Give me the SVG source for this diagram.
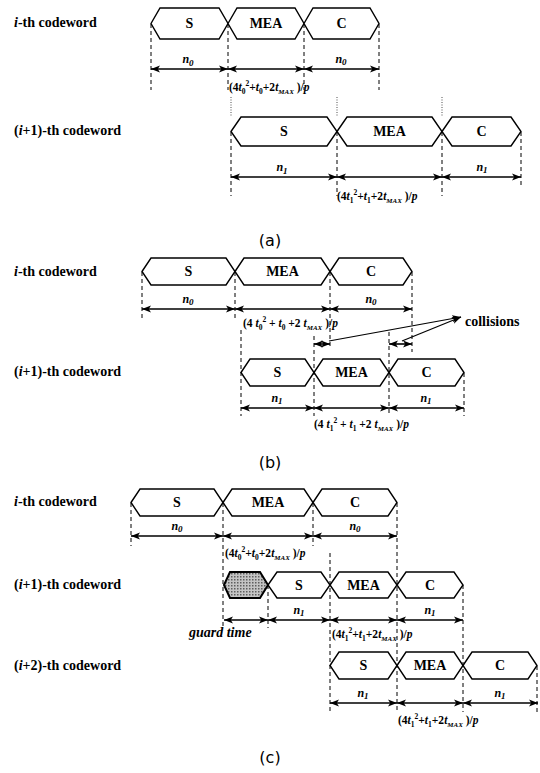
<svg xmlns="http://www.w3.org/2000/svg" width="540" height="773" viewBox="0 0 540 773">
<defs>
<marker id="ah" viewBox="0 0 10 8" refX="10" refY="4" markerWidth="9" markerHeight="7.5" markerUnits="userSpaceOnUse" orient="auto-start-reverse"><path d="M0 0 L10 4 L0 8 L2.5 4 Z" fill="#000"/></marker>
<pattern id="dots" width="3" height="3" patternUnits="userSpaceOnUse"><rect width="3" height="3" fill="#c4c4c4"/><rect width="1.5" height="1.5" fill="#5e5e5e"/></pattern>
<style>
.hx{fill:#fff;stroke:#000;stroke-width:1.4;stroke-linejoin:miter}
.gd{fill:url(#dots);stroke:#000;stroke-width:2}
.ds{stroke:#000;stroke-width:1;stroke-dasharray:4 3;fill:none}
.dt{stroke:#000;stroke-width:0.7;stroke-dasharray:1 1.5;fill:none}
.ar{stroke:#000;stroke-width:1.6;fill:none;marker-start:url(#ah);marker-end:url(#ah)}
.ln{stroke:#000;stroke-width:1.2;fill:none;marker-end:url(#ah)}
text{font-family:"Liberation Serif","Times New Roman",serif;font-weight:bold;fill:#000}
.lb{font-size:14px}
.sg{font-size:14px;text-anchor:middle}
.n{font-size:12px;font-style:italic;text-anchor:middle}
.f{font-size:11.5px}
.i{font-style:italic}
.cap{font-family:"DejaVu Sans",sans-serif;font-weight:normal;font-size:16px;text-anchor:middle}
</style>
</defs>

<!-- Panel (a) -->
<g id="a-label-i"><text class="lb" x="14" y="27"><tspan class="i">i</tspan>-th codeword</text></g>
<g id="a-i-S"><path class="hx" d="M151 23.5 L160 8 L219 8 L228 23.5 L219 39 L160 39 Z"/><text class="sg" x="189.5" y="28">S</text></g>
<g id="a-i-MEA"><path class="hx" d="M228 23.5 L237 8 L295 8 L304 23.5 L295 39 L237 39 Z"/><text class="sg" x="266" y="28">MEA</text></g>
<g id="a-i-C"><path class="hx" d="M304 23.5 L313 8 L370 8 L379 23.5 L370 39 L313 39 Z"/><text class="sg" x="341.5" y="28">C</text></g>

<g id="a-label-i1"><text class="lb" x="14" y="135">(<tspan class="i">i</tspan>+1)-th codeword</text></g>
<g id="a-i1-S"><path class="hx" d="M231 131.5 L241 117 L327 117 L337 131.5 L327 146 L241 146 Z"/><text class="sg" x="284" y="136">S</text></g>
<g id="a-i1-MEA"><path class="hx" d="M337 131.5 L347 117 L432 117 L442 131.5 L432 146 L347 146 Z"/><text class="sg" x="389.5" y="136">MEA</text></g>
<g id="a-i1-C"><path class="hx" d="M442 131.5 L452 117 L511 117 L521 131.5 L511 146 L452 146 Z"/><text class="sg" x="481.5" y="136">C</text></g>

<!-- Panel (b) -->
<g id="b-label-i"><text class="lb" x="14" y="276"><tspan class="i">i</tspan>-th  codeword</text></g>
<g id="b-i-S"><path class="hx" d="M142 271.5 L151 258 L226 258 L235 271.5 L226 285 L151 285 Z"/><text class="sg" x="188.5" y="276">S</text></g>
<g id="b-i-MEA"><path class="hx" d="M235 271.5 L244 258 L321 258 L330 271.5 L321 285 L244 285 Z"/><text class="sg" x="282.5" y="276">MEA</text></g>
<g id="b-i-C"><path class="hx" d="M330 271.5 L339 258 L403 258 L412 271.5 L403 285 L339 285 Z"/><text class="sg" x="371" y="276">C</text></g>

<g id="b-label-i1"><text class="lb" x="14" y="376">(<tspan class="i">i</tspan>+1)-th codeword</text></g>
<g id="b-i1-S"><path class="hx" d="M241 372.5 L250 359 L305 359 L314 372.5 L305 386 L250 386 Z"/><text class="sg" x="277.5" y="377">S</text></g>
<g id="b-i1-MEA"><path class="hx" d="M314 372.5 L323 359 L380 359 L389 372.5 L380 386 L323 386 Z"/><text class="sg" x="351.5" y="377">MEA</text></g>
<g id="b-i1-C"><path class="hx" d="M389 372.5 L398 359 L455 359 L464 372.5 L455 386 L398 386 Z"/><text class="sg" x="426.5" y="377">C</text></g>
<g id="b-collisions"><text class="lb" x="465" y="326" font-size="13">collisions</text></g>

<!-- Panel (c) -->
<g id="c-label-i"><text class="lb" x="14" y="506"><tspan class="i">i</tspan>-th codeword</text></g>
<g id="c-i-S"><path class="hx" d="M131 502.5 L140 489 L214 489 L223 502.5 L214 516 L140 516 Z"/><text class="sg" x="177" y="507">S</text></g>
<g id="c-i-MEA"><path class="hx" d="M223 502.5 L232 489 L304 489 L313 502.5 L304 516 L232 516 Z"/><text class="sg" x="268" y="507">MEA</text></g>
<g id="c-i-C"><path class="hx" d="M313 502.5 L322 489 L388 489 L397 502.5 L388 516 L322 516 Z"/><text class="sg" x="355" y="507">C</text></g>

<g id="c-label-i1"><text class="lb" x="14" y="589">(<tspan class="i">i</tspan>+1)-th codeword</text></g>
<g id="c-i1-guard"><path class="gd" d="M224 585 L230 572 L260 572 L268 585 L260 598 L230 598 Z"/></g>
<g id="c-i1-S"><path class="hx" d="M268 585 L277 572 L321 572 L330 585 L321 598 L277 598 Z"/><text class="sg" x="299" y="590">S</text></g>
<g id="c-i1-MEA"><path class="hx" d="M330 585 L339 572 L388 572 L397 585 L388 598 L339 598 Z"/><text class="sg" x="363.5" y="590">MEA</text></g>
<g id="c-i1-C"><path class="hx" d="M397 585 L406 572 L454 572 L463 585 L454 598 L406 598 Z"/><text class="sg" x="430" y="590">C</text></g>
<g id="c-guard-label"><text class="lb i" x="189" y="637" font-size="12.5">guard time</text></g>

<g id="c-label-i2"><text class="lb" x="14" y="670">(<tspan class="i">i</tspan>+2)-th codeword</text></g>
<g id="c-i2-S"><path class="hx" d="M330 665.5 L339 652 L388 652 L397 665.5 L388 679 L339 679 Z"/><text class="sg" x="363.5" y="670">S</text></g>
<g id="c-i2-MEA"><path class="hx" d="M397 665.5 L406 652 L454 652 L463 665.5 L454 679 L406 679 Z"/><text class="sg" x="430" y="670">MEA</text></g>
<g id="c-i2-C"><path class="hx" d="M463 665.5 L472 652 L528 652 L537 665.5 L528 679 L472 679 Z"/><text class="sg" x="500" y="670">C</text></g>

<!-- connectors -->
<g id="connectors">
<path class="ds" d="M151 24 V90 M228 24 V90 M304 24 V90 M379 24 V90"/>
<path class="dt" d="M231 97 V117 M337 97 V117 M442 97 V117"/>
<path class="ds" d="M231 132 V196 M337 132 V196 M442 132 V196 M521 132 V186"/>
<path class="ar" d="M151 69 H228"/><path class="ar" d="M228 69 H304"/><path class="ar" d="M304 69 H379"/>
<path class="ar" d="M231 177 H337"/><path class="ar" d="M337 177 H442"/><path class="ar" d="M442 177 H521"/>

<path class="ds" d="M142 272 V318 M235 272 V318 M330 272 V347 M412 272 V352"/>
<path class="ds" d="M241 330 V416 M314 336 V416 M389 332 V416 M464 373 V416"/>
<path class="ar" d="M142 309 H235"/><path class="ar" d="M235 309 H330"/><path class="ar" d="M330 309 H412"/>
<path class="ar" d="M314 344 H330"/><path class="ar" d="M389 344 H412"/>
<path class="ln" d="M329 341 L461 317"/><path class="ln" d="M402 341 L461 317"/>
<path class="ar" d="M241 408 H314"/><path class="ar" d="M314 408 H389"/><path class="ar" d="M389 408 H464"/>

<path class="ds" d="M131 503 V546 M223 503 V628 M313 503 V546 M397 503 V712"/>
<path class="ds" d="M268 585 V628 M330 553 V712 M463 585 V712 M537 666 V712"/>
<path class="ar" d="M131 536 H223"/><path class="ar" d="M223 536 H313"/><path class="ar" d="M313 536 H397"/>
<path class="ar" d="M224 620 H268"/><path class="ar" d="M268 620 H330"/><path class="ar" d="M330 620 H397"/><path class="ar" d="M397 620 H463"/>
<path class="ar" d="M330 703 H397"/><path class="ar" d="M397 703 H463"/><path class="ar" d="M463 703 H538"/>
</g>

<g id="dim-labels">
<text class="n" x="188" y="63">n<tspan font-size="9" dy="3">0</tspan></text>
<text class="n" x="341" y="63">n<tspan font-size="9" dy="2">0</tspan></text>
<text class="f" x="229" y="91">(4<tspan class="i">t</tspan><tspan dy="3" font-size="7.5">0</tspan><tspan dy="-8" font-size="7.5">2</tspan><tspan dy="5">+</tspan><tspan class="i">t</tspan><tspan dy="3" font-size="7.5">0</tspan><tspan dy="-3">+2</tspan><tspan class="i">t</tspan><tspan dy="3" font-size="7" class="i">MAX</tspan><tspan dy="-3"> )/</tspan><tspan class="i">p</tspan></text>
<text class="n" x="282" y="171">n<tspan font-size="9" dy="3">1</tspan></text>
<text class="n" x="482" y="171">n<tspan font-size="9" dy="2">1</tspan></text>
<text class="f" x="337" y="200">(4<tspan class="i">t</tspan><tspan dy="3" font-size="7.5">1</tspan><tspan dy="-8" font-size="7.5">2</tspan><tspan dy="5">+</tspan><tspan class="i">t</tspan><tspan dy="3" font-size="7.5">1</tspan><tspan dy="-3">+2</tspan><tspan class="i">t</tspan><tspan dy="3" font-size="7" class="i">MAX</tspan><tspan dy="-3"> )/</tspan><tspan class="i">p</tspan></text>

<text class="n" x="188" y="303">n<tspan font-size="9" dy="2">0</tspan></text>
<text class="n" x="371" y="303">n<tspan font-size="9" dy="2">0</tspan></text>
<text class="f" x="243" y="327">(4 <tspan class="i">t</tspan><tspan dy="3" font-size="7.5">0</tspan><tspan dy="-8" font-size="7.5">2</tspan><tspan dy="5"> + </tspan><tspan class="i">t</tspan><tspan dy="3" font-size="7.5">0</tspan><tspan dy="-3"> +2 </tspan><tspan class="i">t</tspan><tspan dy="3" font-size="7" class="i">MAX</tspan><tspan dy="-3">  )/</tspan><tspan class="i">p</tspan></text>
<text class="n" x="277" y="402">n<tspan font-size="9" dy="2">1</tspan></text>
<text class="n" x="426" y="402">n<tspan font-size="9" dy="2">1</tspan></text>
<text class="f" x="314" y="428">(4 <tspan class="i">t</tspan><tspan dy="3" font-size="7.5">1</tspan><tspan dy="-8" font-size="7.5">2</tspan><tspan dy="5"> + </tspan><tspan class="i">t</tspan><tspan dy="3" font-size="7.5">1</tspan><tspan dy="-3"> +2 </tspan><tspan class="i">t</tspan><tspan dy="3" font-size="7" class="i">MAX</tspan><tspan dy="-3">  )/</tspan><tspan class="i">p</tspan></text>

<text class="n" x="177" y="530">n<tspan font-size="9" dy="2">0</tspan></text>
<text class="n" x="355" y="530">n<tspan font-size="9" dy="2">0</tspan></text>
<text class="f" x="225" y="557">(4<tspan class="i">t</tspan><tspan dy="3" font-size="7.5">0</tspan><tspan dy="-8" font-size="7.5">2</tspan><tspan dy="5">+</tspan><tspan class="i">t</tspan><tspan dy="3" font-size="7.5">0</tspan><tspan dy="-3">+2</tspan><tspan class="i">t</tspan><tspan dy="3" font-size="7" class="i">MAX</tspan><tspan dy="-3"> )/</tspan><tspan class="i">p</tspan></text>
<text class="n" x="299" y="614">n<tspan font-size="9" dy="2">1</tspan></text>
<text class="n" x="430" y="614">n<tspan font-size="9" dy="2">1</tspan></text>
<text class="f" x="332" y="638">(4<tspan class="i">t</tspan><tspan dy="3" font-size="7.5">1</tspan><tspan dy="-8" font-size="7.5">2</tspan><tspan dy="5">+</tspan><tspan class="i">t</tspan><tspan dy="3" font-size="7.5">1</tspan><tspan dy="-3">+2</tspan><tspan class="i">t</tspan><tspan dy="3" font-size="7" class="i">MAX</tspan><tspan dy="-3"> )/</tspan><tspan class="i">p</tspan></text>
<text class="n" x="363" y="697">n<tspan font-size="9" dy="2">1</tspan></text>
<text class="n" x="500" y="697">n<tspan font-size="9" dy="2">1</tspan></text>
<text class="f" x="398" y="724">(4<tspan class="i">t</tspan><tspan dy="3" font-size="7.5">1</tspan><tspan dy="-8" font-size="7.5">2</tspan><tspan dy="5">+</tspan><tspan class="i">t</tspan><tspan dy="3" font-size="7.5">1</tspan><tspan dy="-3">+2</tspan><tspan class="i">t</tspan><tspan dy="3" font-size="7" class="i">MAX</tspan><tspan dy="-3"> )/</tspan><tspan class="i">p</tspan></text>
</g>

<g id="captions">
<text class="cap" x="270" y="246">(a)</text>
<text class="cap" x="270" y="468">(b)</text>
<text class="cap" x="270" y="763">(c)</text>
</g>
</svg>
